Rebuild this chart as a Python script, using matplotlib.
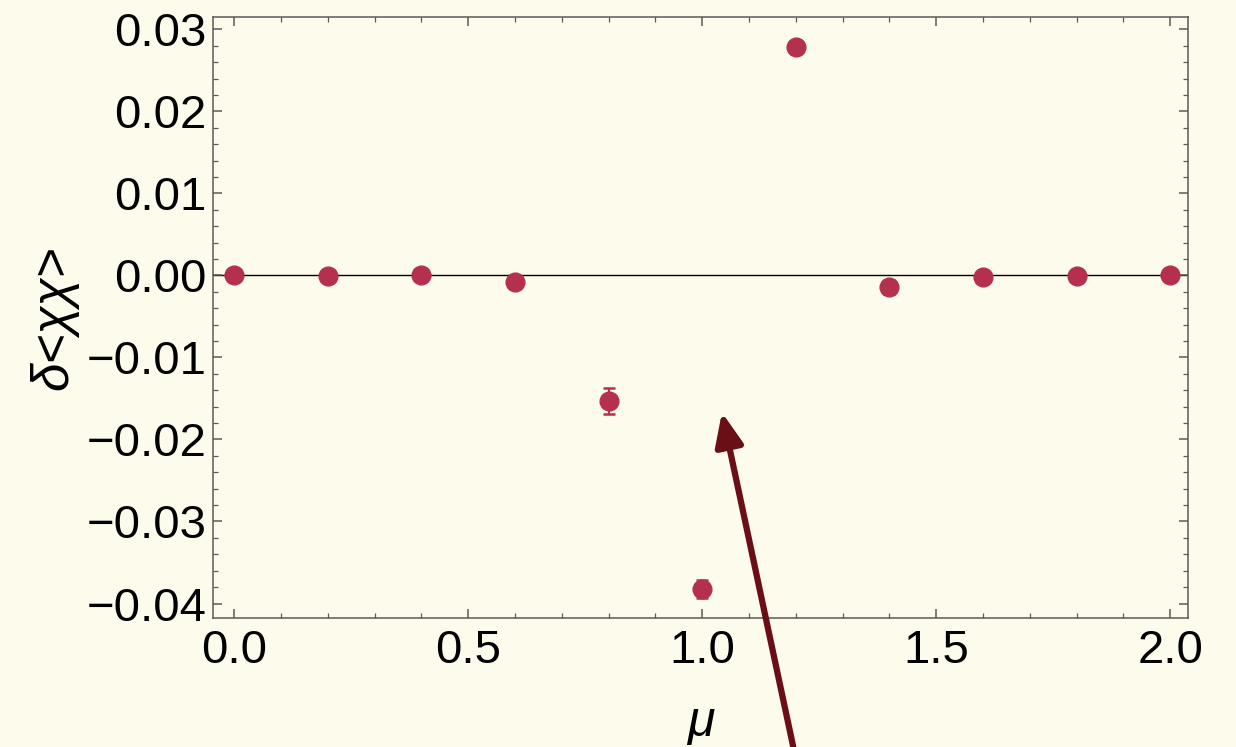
import matplotlib
matplotlib.use("Agg")
import matplotlib.pyplot as plt
from matplotlib.ticker import MultipleLocator, FuncFormatter

plt.rcParams['font.family'] = ['Liberation Sans', 'DejaVu Sans']

# delta <chi chi> against mu
mu = [0.0, 0.2, 0.4, 0.6, 0.8, 1.0, 1.2, 1.4, 1.6, 1.8, 2.0]
dchi = [0.0, -0.0001, 0.0001, -0.0008, -0.0153, -0.0382, 0.0278, -0.0014, -0.0002, -0.0001, 0.0]
err = [0.0002, 0.0002, 0.0002, 0.0003, 0.0016, 0.0011, 0.0004, 0.0009, 0.0003, 0.0002, 0.0002]

bg = '#fdfbec'
pt_col = '#b5304f'
arrow_col = '#6b0f17'
frame_col = '#5a5a5a'

fig = plt.figure(figsize=(12.36, 7.47), dpi=100, facecolor=bg)
ax = fig.add_axes([0.1727, 0.1723, 0.7885, 0.8049])
ax.set_facecolor(bg)

ax.axhline(0, color='black', lw=1.0, zorder=1)
ax.errorbar(mu, dchi, yerr=err, fmt='o', ms=13.5, color=pt_col, ecolor=pt_col,
            elinewidth=1.5, capsize=4.5, capthick=1.8, zorder=3)

ax.set_xlim(-0.0445, 2.038)
ax.set_ylim(-0.0418, 0.0315)

ax.xaxis.set_major_locator(MultipleLocator(0.5))
ax.xaxis.set_minor_locator(MultipleLocator(0.1))
ax.yaxis.set_major_locator(MultipleLocator(0.01))
ax.yaxis.set_minor_locator(MultipleLocator(0.002))
ax.xaxis.set_major_formatter(FuncFormatter(lambda v, p: f"{v:.1f}"))
ax.yaxis.set_major_formatter(FuncFormatter(lambda v, p: f"{v:.2f}".replace('-', '\u2212')))

ax.tick_params(which='both', direction='in', top=True, right=True,
               color=frame_col, labelsize=34, labelcolor='black')
ax.tick_params(which='major', length=6.5, width=1.1)
ax.tick_params(which='minor', length=3.8, width=0.9)
ax.tick_params(axis='x', pad=8)
ax.tick_params(axis='y', pad=5)
for s in ax.spines.values():
    s.set_color(frame_col)
    s.set_linewidth(1.1)

ax.set_ylabel('\u03b4<\u03c7\u03c7>', fontsize=37, fontstyle='italic', labelpad=6)
ax.set_xlabel('\u03bc', fontsize=36, fontstyle='italic', labelpad=19)

# arrow pointing up into the plot, running off the bottom edge
ax.annotate('', xy=(1.042, -0.0167), xytext=(1.202, -0.0595),
            annotation_clip=False,
            arrowprops=dict(arrowstyle='-|>,head_length=2.0,head_width=0.85',
                            color=arrow_col, lw=4.5, shrinkA=0, shrinkB=0))

fig.savefig('out.png', dpi=100, facecolor=bg)
